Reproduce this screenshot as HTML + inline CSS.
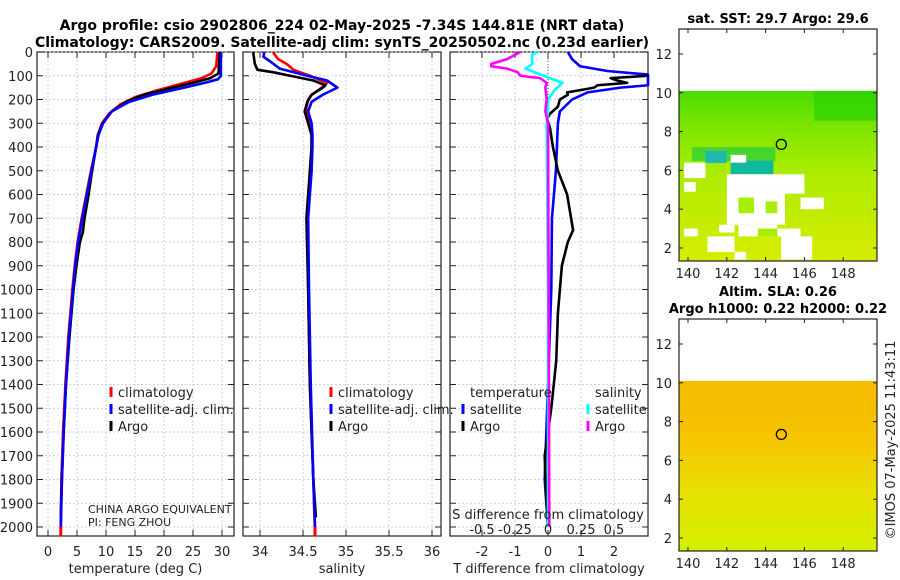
<!DOCTYPE html>
<html><head><meta charset="utf-8"><style>
body{margin:0;background:#fff}
svg{display:block;font-family:"DejaVu Sans","Liberation Sans",sans-serif}
</style></head><body>
<svg id="s" width="900" height="580" viewBox="0 0 900 580">
<text x="342" y="30" font-size="14" font-weight="bold" text-anchor="middle">Argo profile: csio 2902806_224 02-May-2025 -7.34S 144.81E (NRT data)</text>
<text x="342" y="47" font-size="14" font-weight="bold" text-anchor="middle">Climatology: CARS2009. Satellite-adj clim: synTS_20250502.nc (0.23d earlier)</text>
<g id="g"></g>
</svg>
<script>
// ---- data ----
const depthTicks=[0,100,200,300,400,500,600,700,800,900,1000,1100,1200,1300,1400,1500,1600,1700,1800,1900,2000];
const tTicks=[0,5,10,15,20,25,30];
const sTicks=[34,34.5,35,35.5,36];
const tdTicks=[-2,-1,0,1,2];
const sdTicks=[-0.5,-0.25,0,0.25,0.5];
const sdTickLabels=["-0.5","-0.25","0","0.25","0.5"];
const tClimD=[0,60,90,110,130,160,190,220,260,300,350,400,500,600,700,800,900,1000,1200,1400,1600,1800,2040];
const tClim=[29.2,29.0,28.2,26.5,23.5,19,15,12.5,10.5,9.3,8.6,8.3,7.4,6.6,5.8,5.1,4.6,4.2,3.5,3.0,2.6,2.3,2.2];
const tSatD=[0,100,115,130,150,180,210,250,300,350,400,500,600,700,800,900,1000,1200,1400,1600,1800,2000];
const tSat=[29.8,29.8,29.3,27,23.5,18,14,11,9.5,8.7,8.3,7.5,6.7,5.9,5.2,4.7,4.3,3.6,3.1,2.7,2.4,2.2];
const tArgoD=[0,90,110,130,150,180,210,250,300,350,400,500,600,700,760,800,900,1000,1200,1400,1600,1800,1960];
const tArgo=[29.6,29.4,28,25,21.5,16.5,13.5,11,9.4,8.6,8.3,7.6,7.0,6.3,6.0,5.5,4.9,4.4,3.7,3.1,2.7,2.4,2.2];
const sClimD=[0,30,50,75,100,130,150,180,200,250,300,350,400,500,700,1000,1400,1800,2040];
const sClim=[34.15,34.21,34.31,34.39,34.58,34.78,34.72,34.6,34.56,34.53,34.58,34.6,34.6,34.59,34.55,34.56,34.58,34.62,34.64];
const sSatD=[0,20,40,70,100,120,150,180,210,250,300,350,400,500,700,1000,1400,1800,2000];
const sSat=[34.05,34.04,34.12,34.23,34.55,34.78,34.9,34.73,34.6,34.56,34.6,34.61,34.61,34.6,34.56,34.57,34.59,34.62,34.64];
const sArgoD=[0,50,75,85,100,120,140,150,180,210,250,300,350,400,500,700,1000,1400,1800,1960];
const sArgo=[33.92,33.94,33.97,34.15,34.35,34.62,34.76,34.73,34.6,34.55,34.52,34.56,34.6,34.6,34.58,34.54,34.56,34.58,34.62,34.65];
const dtSatD=[0,30,60,80,95,140,150,170,200,250,300,500,700,1000,1400,1800,2000];
const dtSat=[0.6,0.73,0.97,1.8,3.1,3.1,2.2,1.2,0.73,0.36,0.3,0.24,0.12,0.1,0,-0.1,0];
const dtArgoD=[100,110,120,130,140,150,160,170,180,200,230,260,280,320,400,500,600,750,800,900,1000,1100,1300,1500,1700,1900,1950];
const dtArgo=[3.1,1.9,2.1,2.4,1.5,1.4,1.0,0.58,0.6,0.36,0.3,0.06,-0.03,0.06,0.15,0.3,0.58,0.76,0.6,0.42,0.36,0.3,0.25,0.1,-0.1,-0.05,0];
const dsSatD=[0,10,50,70,90,110,130,160,200,250,300,1000,2000];
const dsSat=[-0.08,-0.12,-0.12,-0.17,-0.08,0.015,0.11,0.05,0,0,-0.01,0,0];
const dsArgoD=[0,30,50,60,70,85,100,110,130,150,200,250,300,1000,2000];
const dsArgo=[-0.21,-0.31,-0.43,-0.43,-0.31,-0.23,-0.21,-0.06,-0.01,-0.02,-0.01,-0.02,0,0.005,0.01];
const lonTicks=[140,142,144,146,148];
const latTicks=[2,4,6,8,10,12];
// ---- helpers ----
const NS="http://www.w3.org/2000/svg",G=document.getElementById('g');
function mk(t,a,p){const e=document.createElementNS(NS,t);for(const k in a)e.setAttribute(k,a[k]);(p||G).appendChild(e);return e;}
const Y0=52,YS=0.2375;
const yD=d=>Y0+d*YS;
function panel(x0,x1,name,xticks,xf,labels,xlabel){
  const bx=mk('rect',{x:x0,y:52,width:x1-x0,height:484,fill:'none',stroke:'#222','stroke-width':1.2});
  
  depthTicks.forEach(d=>{const l=mk('line',{x1:x0,x2:x1,y1:yD(d),y2:yD(d),stroke:'#b8c4e6','stroke-dasharray':'2,2','stroke-width':0.8});
    
    mk('line',{x1:x0,x2:x0+6,y1:yD(d),y2:yD(d),stroke:'#222'});mk('line',{x1:x1-6,x2:x1,y1:yD(d),y2:yD(d),stroke:'#222'});});
  xticks.forEach((v,i)=>{const x=xf(v);const l=mk('line',{x1:x,x2:x,y1:52,y2:536,stroke:'#b8c4e6','stroke-dasharray':'2,2','stroke-width':0.8});
    
    mk('line',{x1:x,x2:x,y1:536,y2:530,stroke:'#222'});mk('line',{x1:x,x2:x,y1:52,y2:58,stroke:'#222'});
    const t=mk('text',{x:x,y:556,'font-size':13,'text-anchor':'middle',fill:'#222'});t.textContent=labels[i];
    });
  const xl=mk('text',{x:(x0+x1)/2,y:573,'font-size':13,'text-anchor':'middle',fill:'#222'});xl.textContent=xlabel;
  
}
function line(xs,ds,xf,col,name,x0,x1){
  const pts=xs.map((v,i)=>[Math.max(x0,Math.min(x1,xf(v))),yD(ds[i])]);
  const p=mk('polyline',{points:pts.map(p=>p.join(',')).join(' '),fill:'none',stroke:col,'stroke-width':2.6,'stroke-linejoin':'round'});
  
}
function legend(x,y,items){items.forEach((it,i)=>{const yy=y+i*17;
  mk('line',{x1:x,x2:x,y1:yy-10,y2:yy,stroke:it[1],'stroke-width':3});
  const t=mk('text',{x:x+7,y:yy,'font-size':13,fill:'#222'});t.textContent=it[0];
  });}
depthTicks.forEach(d=>{const t=mk('text',{x:33,y:yD(d)+5,'font-size':13,'text-anchor':'end',fill:'#222'});t.textContent=d;
  });
// panel 1
const xT=v=>48+5.8*v;
panel(37,234,'temperature-panel',tTicks,xT,tTicks.map(String),'temperature (deg C)');
line(tClim,tClimD,xT,'#f00','temp-climatology-line',37,234);
line(tArgo,tArgoD,xT,'#000','temp-argo-line',37,234);
line(tSat,tSatD,xT,'#00f','temp-satellite-line',37,234);
mk('line',{x1:xT(2.2),x2:xT(2.2),y1:yD(2000),y2:536,stroke:'#f00','stroke-width':3});
legend(111,397,[['climatology','#f00'],['satellite-adj. clim.','#00f'],['Argo','#000']]);
let t1=mk('text',{x:88,y:513,'font-size':11,fill:'#222'});t1.textContent='CHINA ARGO EQUIVALENT';
let t2=mk('text',{x:88,y:526,'font-size':11,fill:'#222'});t2.textContent='PI: FENG ZHOU';
// panel 2
const xS=v=>260+86*(v-34);
panel(243,441,'salinity-panel',sTicks,xS,sTicks.map(String),'salinity');
line(sClim,sClimD,xS,'#f00','sal-climatology-line',243,441);
line(sArgo,sArgoD,xS,'#000','sal-argo-line',243,441);
line(sSat,sSatD,xS,'#00f','sal-satellite-line',243,441);
mk('line',{x1:xS(34.64),x2:xS(34.64),y1:yD(2000),y2:536,stroke:'#f00','stroke-width':3});
legend(331,397,[['climatology','#f00'],['satellite-adj. clim.','#00f'],['Argo','#000']]);
// panel 3
const xTd=v=>548+33*v, xSd=v=>548+132*v;
panel(450,648,'difference-panel',tdTicks,xTd,tdTicks.map(String),'T difference from climatology');
mk('line',{x1:548,x2:548,y1:52,y2:110,stroke:'#363','stroke-dasharray':'1,2'});
line(dtSat,dtSatD,xTd,'#00f','tdiff-satellite-line',450,648);
line(dtArgo,dtArgoD,xTd,'#000','tdiff-argo-line',450,648);
line(dsSat,dsSatD,xSd,'#0ff','sdiff-satellite-line',450,648);
line(dsArgo,dsArgoD,xSd,'#f0f','sdiff-argo-line',450,648);
sdTicks.forEach((v,i)=>{const t=mk('text',{x:xSd(v),y:534,'font-size':13,'text-anchor':'middle',fill:'#222'});t.textContent=sdTickLabels[i];
  });
let st=mk('text',{x:548,y:519,'font-size':13,'text-anchor':'middle',fill:'#222'});st.textContent='S difference from climatology';
let lt=mk('text',{x:470,y:397,'font-size':13,fill:'#222'});lt.textContent='temperature';
legend(463,414,[['satellite','#00f'],['Argo','#000']]);
let ls=mk('text',{x:595,y:397,'font-size':13,fill:'#222'});ls.textContent='salinity';
legend(588,414,[['satellite','#0ff'],['Argo','#f0f']]);
// maps
function map(y0,y1,lat12,name,title,fillFn){
  const xL=v=>688+19.4*(v-140), yL=v=>lat12+(12-v)*19.4;
  fillFn(xL,yL);
  const bx=mk('rect',{x:679,y:y0,width:198,height:y1-y0,fill:'none',stroke:'#222','stroke-width':1.2});
  
  lonTicks.forEach(v=>{const x=xL(v);mk('line',{x1:x,x2:x,y1:y1,y2:y1-4,stroke:'#222'});mk('line',{x1:x,x2:x,y1:y0,y2:y0+4,stroke:'#222'});
    const t=mk('text',{x:x,y:y1+17,'font-size':13,'text-anchor':'middle',fill:'#222'});t.textContent=v;});
  latTicks.forEach(v=>{const y=yL(v);mk('line',{x1:679,x2:683,y1:y,y2:y,stroke:'#222'});mk('line',{x1:873,x2:877,y1:y,y2:y,stroke:'#222'});
    const t=mk('text',{x:672,y:y+5,'font-size':13,'text-anchor':'end',fill:'#222'});t.textContent=v;});
  const c=mk('circle',{cx:xL(144.81),cy:yL(7.34),r:5,fill:'none',stroke:'#000','stroke-width':1.3});
  title.forEach((s,i)=>{const t=mk('text',{x:778,y:y0-(title.length-1-i)*17-6,'font-size':13,'font-weight':'bold','text-anchor':'middle'});t.textContent=s;});
}
const defs=mk('defs',{});
const g1=mk('linearGradient',{id:'sst',x1:0,y1:0,x2:0,y2:1},defs);
[['0','#48dc00'],['0.2','#7ae400'],['0.45','#a8ec00'],['1','#d8ec00']].forEach(s=>mk('stop',{offset:s[0],'stop-color':s[1]},g1));
const g2=mk('linearGradient',{id:'sla',x1:0,y1:0,x2:0,y2:1},defs);
[['0','#f6bc00'],['0.35','#f6c400'],['0.65','#e8e000'],['1','#d2f000']].forEach(s=>mk('stop',{offset:s[0],'stop-color':s[1]},g2));
map(29,261,54,'sst-map',['sat. SST: 29.7 Argo: 29.6'],(xL,yL)=>{
  const r=mk('rect',{x:679,y:yL(10.1),width:198,height:261-yL(10.1),fill:'url(#sst)'});
  mk('rect',{x:xL(146.5),y:yL(10.1),width:877-xL(146.5),height:30,fill:'#20d000',opacity:0.6});
  mk('rect',{x:xL(140.2),y:yL(7.2),width:xL(144.5)-xL(140.2),height:14,fill:'#10c848',opacity:0.6});
  mk('rect',{x:xL(140.9),y:yL(7.0),width:xL(142.0)-xL(140.9),height:12,fill:'#20b8b0'});
  mk('rect',{x:xL(142.2),y:yL(6.5),width:xL(144.4)-xL(142.2),height:yL(5.8)-yL(6.5),fill:'#10b8a0'});
  [[139.8,6.4,140.9,5.6],[139.8,5.4,140.4,4.9],[142.2,6.8,143.0,6.4],[142.0,5.8,146.0,5.2],[142.0,5.2,145.0,3.2],[145.0,5.2,146.0,4.8],[145.8,4.6,147.0,4.0],[141.6,3.2,142.4,2.8],[142.6,3.2,144.6,2.6],[144.6,3.0,145.8,2.6],[144.8,2.6,146.4,1.4],[141.0,2.6,142.4,1.8],[142.4,1.8,143.0,1.4],[139.8,3.0,140.5,2.6]].forEach(p=>
    mk('rect',{x:xL(p[0]),y:yL(p[1]),width:xL(p[2])-xL(p[0]),height:yL(p[3])-yL(p[1]),fill:'#fff'}));
  [[142.6,4.6,143.4,3.8],[144.0,4.4,144.6,3.8],[143.6,3.0,144.6,2.6]].forEach(p=>mk('rect',{x:xL(p[0]),y:yL(p[1]),width:xL(p[2])-xL(p[0]),height:yL(p[3])-yL(p[1]),fill:'#a8ee00'}));
});
map(319,551,344,'sla-map',['Altim. SLA: 0.26','Argo h1000: 0.22 h2000: 0.22'],(xL,yL)=>{
  const r=mk('rect',{x:679,y:yL(10.1),width:198,height:551-yL(10.1),fill:'url(#sla)'});
});
const cr=mk('text',{x:0,y:0,'font-size':13,fill:'#222','text-anchor':'middle',transform:'translate(895,440) rotate(-90)'});
cr.textContent='©IMOS 07-May-2025 11:43:11';
</script>
</body></html>
